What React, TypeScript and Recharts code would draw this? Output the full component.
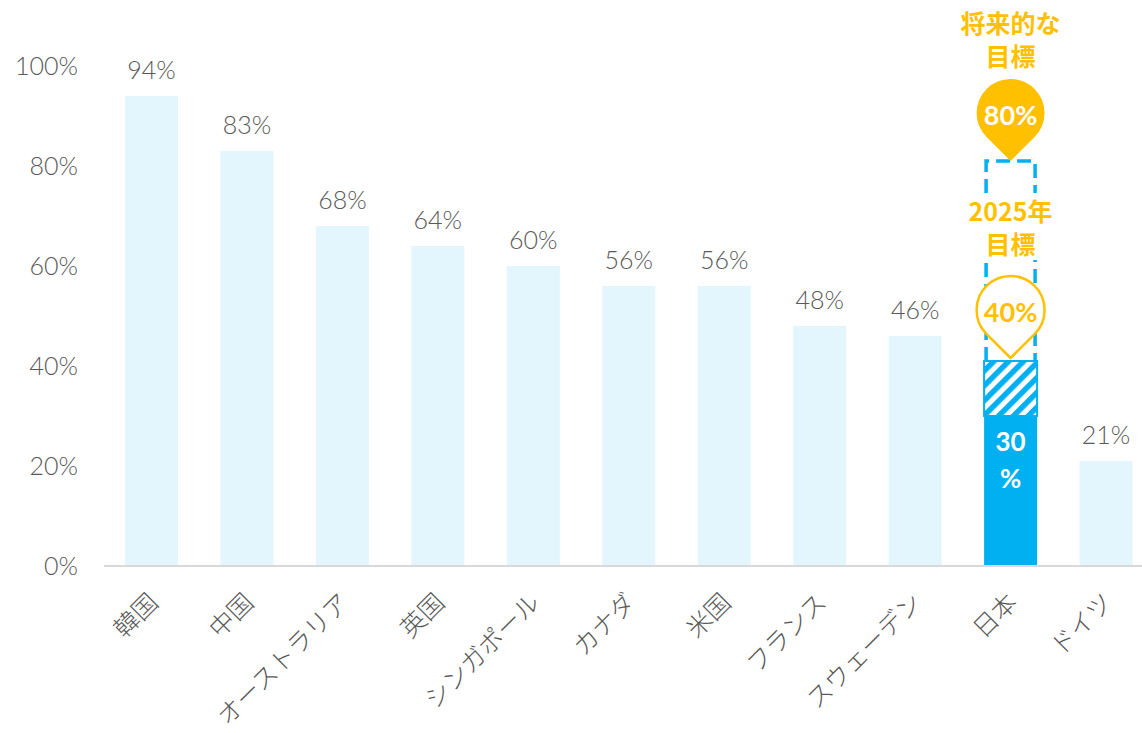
import React from "react"
import { BarChart, Bar, XAxis, YAxis, Cell, LabelList } from "recharts"

const countries = ["韓国", "中国", "オーストラリア", "英国", "シンガポール", "カナダ", "米国", "フランス", "スウェーデン", "日本", "ドイツ"]
const rates = [94, 83, 68, 64, 60, 56, 56, 48, 46, 30, 21]
const yTicks = [0, 20, 40, 60, 80, 100]

// 日本の目標 (2025年 / 将来)
const highlight = "日本"
const goal2025 = 41
const goalFuture = 81
const goal2025Label = "40%"
const goalFutureLabel = "80%"
const goal2025Title = ["2025年", "目標"]
const goalFutureTitle = ["将来的な", "目標"]

const data = countries.map((country, i) => ({
  country,
  rate: rates[i],
  hatch: country === highlight ? goal2025 - rates[i] : 0,
  future: country === highlight ? goalFuture - goal2025 : 0,
}))

const GRAY = "#595959"
const LIGHT = "#e3f5fd"
const BLUE = "#00b0f0"
const AMBER = "#ffc000"
const NUM_FONT = "Lato, 'Noto Sans CJK JP', sans-serif"
const JP_FONT = "'Noto Sans CJK JP', sans-serif"

function Pin({ cx, tipY, filled, text }: { cx: number; tipY: number; filled: boolean; text: string }) {
  const r = 34
  const d = 48
  const cy = tipY - d
  const cosA = r / d
  const sinA = Math.sqrt(1 - cosA * cosA)
  const px = r * sinA
  const py = r * cosA
  const path = `M ${cx} ${tipY} L ${cx - px} ${cy + py} A ${r} ${r} 0 1 1 ${cx + px} ${cy + py} Z`
  return (
    <g>
      <path d={path} fill={filled ? AMBER : "#fff"} stroke={AMBER} strokeWidth={filled ? 0 : 2.5} />
      <text x={cx} y={cy + 1} textAnchor="middle" dominantBaseline="central" fill={filled ? "#fff" : AMBER}
        fontSize={27} fontWeight={700} fontFamily={NUM_FONT}>
        {text}
      </text>
    </g>
  )
}

const HatchShape = (props: any) => {
  const { x, y, width, height } = props
  if (!height || height <= 0) return null
  return <rect x={x} y={y} width={width} height={height} fill="url(#hatch)" stroke={BLUE} strokeWidth={2} />
}

const FutureShape = (props: any) => {
  const { x, y, width, height } = props
  if (!height || height <= 0) return null
  const l = x + 2
  const r = x + width - 2
  return (
    <path d={`M ${l} ${y + height} L ${l} ${y} L ${r} ${y} L ${r} ${y + height}`}
      fill="none" stroke={BLUE} strokeWidth={3.5} strokeDasharray="14 7" />
  )
}

const RateLabel = (props: any) => {
  const { x, y, width, value, index } = props
  const cx = x + width / 2
  if (countries[index] === highlight) {
    return (
      <g fill="#fff" fontSize={26} fontWeight={700} fontFamily={NUM_FONT} textAnchor="middle">
        <text x={cx} y={y + 25} dominantBaseline="central">{value}</text>
        <text x={cx} y={y + 62} dominantBaseline="central">%</text>
      </g>
    )
  }
  return (
    <text x={cx} y={y - 17} textAnchor="middle" fill={GRAY} fontSize={25} fontWeight={300} fontFamily={NUM_FONT}>
      {value}%
    </text>
  )
}

const HatchLabel = (props: any) => {
  const { x, y, width, value } = props
  if (!value) return null
  const cx = x + width / 2
  return (
    <g>
      <rect x={cx - 40} y={y - 168} width={80} height={67} fill="#fff" />
      <g fill={AMBER} fontSize={25} fontWeight={700} fontFamily={JP_FONT} textAnchor="middle">
        <text x={cx} y={y - 151} dominantBaseline="central">{goal2025Title[0]}</text>
        <text x={cx} y={y - 118} dominantBaseline="central">{goal2025Title[1]}</text>
      </g>
      <Pin cx={cx} tipY={y - 3} filled={false} text={goal2025Label} />
    </g>
  )
}

const FutureLabel = (props: any) => {
  const { x, y, width, value } = props
  if (!value) return null
  const cx = x + width / 2
  return (
    <g>
      <g fill={AMBER} fontSize={25} fontWeight={700} fontFamily={JP_FONT} textAnchor="middle">
        <text x={cx} y={y - 139} dominantBaseline="central">{goalFutureTitle[0]}</text>
        <text x={cx} y={y - 106} dominantBaseline="central">{goalFutureTitle[1]}</text>
      </g>
      <Pin cx={cx} tipY={y} filled={true} text={goalFutureLabel} />
    </g>
  )
}

const CountryTick = (props: any) => {
  const { x, y, payload } = props
  return (
    <text transform={`translate(${x + 8}, ${y + 30}) rotate(-45)`} textAnchor="end" fill={GRAY}
      fontSize={25} fontWeight={300} fontFamily={JP_FONT}>
      {payload.value}
    </text>
  )
}

export default function App() {
  return (
    <div style={{ position: "absolute", left: 0, top: 0, width: 1142, height: 733, overflow: "hidden", background: "#fff" }}>
      <BarChart width={1160} height={733} data={data} margin={{ top: 66, right: 6, bottom: 7, left: 0 }}>
        <defs>
          <pattern id="hatch" patternUnits="userSpaceOnUse" width={10.5} height={10.5} patternTransform="rotate(45)">
            <rect width={10.5} height={10.5} fill="#fff" />
            <rect width={5.5} height={10.5} fill={BLUE} />
          </pattern>
        </defs>
        <XAxis dataKey="country" interval={0} height={160} tickLine={false}
          axisLine={{ stroke: "#d9d9d9", strokeWidth: 2 }} tick={<CountryTick />} />
        <YAxis domain={[0, 100]} ticks={yTicks} width={104} axisLine={false} tickLine={false} tickMargin={20}
          tickFormatter={(v) => `${v}%`} tick={{ fill: GRAY, fontSize: 25, fontWeight: 300, fontFamily: NUM_FONT }} />
        <Bar dataKey="rate" stackId="a" barSize={53} isAnimationActive={false}>
          {data.map((d) => (
            <Cell key={d.country} fill={d.country === highlight ? BLUE : LIGHT} />
          ))}
          <LabelList dataKey="rate" content={<RateLabel />} />
        </Bar>
        <Bar dataKey="hatch" stackId="a" barSize={53} shape={<HatchShape />} isAnimationActive={false}>
          <LabelList dataKey="hatch" content={<HatchLabel />} />
        </Bar>
        <Bar dataKey="future" stackId="a" barSize={53} shape={<FutureShape />} isAnimationActive={false}>
          <LabelList dataKey="future" content={<FutureLabel />} />
        </Bar>
      </BarChart>
    </div>
  )
}
